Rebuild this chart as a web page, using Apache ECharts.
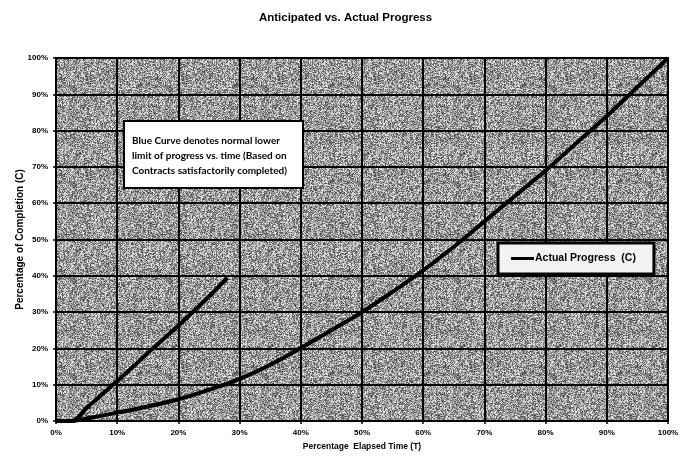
<!DOCTYPE html>
<html>
<head>
<meta charset="utf-8">
<script src="https://cdn.jsdelivr.net/npm/echarts@6/dist/echarts.min.js"></script>
<style>
  html, body { margin: 0; padding: 0; background: #fff; }
  #chart { width: 691px; height: 456px; }
</style>
</head>
<body>
<div id="chart"></div>
<script>
// 数据
const actualTime = [0, 2.5, 5, 10, 15, 20, 25, 30, 35, 40, 45, 50, 55, 60, 65, 70, 75, 80, 85, 90, 95, 100];
const actualDone = [0, 0, 0.7, 2.3, 4.0, 6.0, 8.6, 11.6, 15.5, 20.1, 25, 30, 35.6, 41.5, 48, 55, 62, 69, 76.5, 84, 92, 100];
const lowerTime = [0, 2.5, 5, 10, 15, 20, 25, 28];
const lowerDone = [0, 0, 3.6, 11, 18.7, 26.3, 34.3, 39.5];
const legendName = 'Actual Progress  (C)';
const noteLines = [
  'Blue Curve denotes normal lower',
  'limit of progress vs. time (Based on',
  'Contracts satisfactorily completed)'
];

// 背景纹理（灰色颗粒）
function makeTexture() {
  const c = document.createElement('canvas');
  c.width = 96; c.height = 96;
  const ctx = c.getContext('2d');
  const img = ctx.createImageData(96, 96);
  let s = 12345;
  for (let i = 0; i < 96 * 96; i++) {
    s = (s * 1103515245 + 12345) & 0x7fffffff;
    const v = 70 + (s % 170);
    img.data[i * 4] = v;
    img.data[i * 4 + 1] = v;
    img.data[i * 4 + 2] = v;
    img.data[i * 4 + 3] = 255;
  }
  ctx.putImageData(img, 0, 0);
  return c;
}

const pairs = (xs, ys) => xs.map((x, i) => [x, ys[i]]);
const font = 'Liberation Sans, Arial, sans-serif';

const chart = echarts.init(document.getElementById('chart'), null, { renderer: 'canvas' });

chart.setOption({
  animation: false,
  title: {
    text: 'Anticipated vs. Actual Progress',
    left: 'center',
    top: 7,
    textStyle: { fontFamily: font, fontSize: 11.5, fontWeight: 'bold', color: '#000' }
  },
  grid: {
    left: 56, right: 23, top: 58, bottom: 35,
    outerBoundsMode: 'none',
    containLabel: false,
    show: true,
    backgroundColor: { image: makeTexture(), repeat: 'repeat' },
    borderColor: '#000',
    borderWidth: 2
  },
  xAxis: {
    type: 'value',
    min: 0, max: 100, interval: 10,
    name: 'Percentage  Elapsed Time (T)',
    nameLocation: 'middle',
    nameGap: 21,
    nameMoveOverlap: false,
    nameTextStyle: { fontFamily: font, fontSize: 8.5, fontWeight: 'bold', color: '#000' },
    axisLine: { lineStyle: { color: '#000', width: 2 } },
    axisTick: { show: true, length: 3, lineStyle: { color: '#000', width: 1.5 } },
    axisLabel: { formatter: '{value}%', fontFamily: font, fontSize: 8, fontWeight: 'bold', color: '#000', margin: 8 },
    splitLine: { lineStyle: { color: '#000', width: 2 } }
  },
  yAxis: {
    type: 'value',
    min: 0, max: 100, interval: 10,
    name: 'Percentage of Completion (C)',
    nameLocation: 'middle',
    nameGap: 31,
    nameMoveOverlap: false,
    nameTextStyle: { fontFamily: font, fontSize: 10, fontWeight: 'bold', color: '#000' },
    axisLine: { show: true, lineStyle: { color: '#000', width: 2 } },
    axisTick: { show: true, length: 3, lineStyle: { color: '#000', width: 1.5 } },
    axisLabel: { formatter: '{value}%', fontFamily: font, fontSize: 8, fontWeight: 'bold', color: '#000', margin: 8 },
    splitLine: { lineStyle: { color: '#000', width: 2 } }
  },
  legend: {
    data: [legendName],
    left: 498, top: 243,
    padding: [10, 18, 10, 13],
    backgroundColor: '#f2f2f2',
    borderColor: '#000',
    borderWidth: 3,
    borderRadius: 0,
    icon: 'rect',
    itemWidth: 23, itemHeight: 3,
    itemGap: 4,
    textStyle: { fontFamily: font, fontSize: 10.5, fontWeight: 'bold', color: '#000', padding: [0, 0, 0, -4] }
  },
  graphic: [{
    type: 'text',
    left: 123, top: 120,
    style: {
      text: noteLines.join('\n'),
      fontFamily: 'Lato, Open Sans, sans-serif',
      fontSize: 10,
      fontWeight: 'bold',
      lineHeight: 15,
      fill: '#000',
      backgroundColor: '#fff',
      borderColor: '#000',
      borderWidth: 2,
      padding: [11, 8, 9, 7],
      width: 162
    },
    z: 100
  }],
  series: [
    {
      name: legendName,
      type: 'line',
      data: pairs(actualTime, actualDone),
      smooth: 0.4,
      showSymbol: false,
      lineStyle: { color: '#000', width: 4 },
      itemStyle: { color: '#000' }
    },
    {
      name: 'Lower Limit',
      type: 'line',
      data: pairs(lowerTime, lowerDone),
      smooth: 0.4,
      showSymbol: false,
      lineStyle: { color: '#000', width: 4 },
      itemStyle: { color: '#000' }
    }
  ]
});
</script>
</body>
</html>
